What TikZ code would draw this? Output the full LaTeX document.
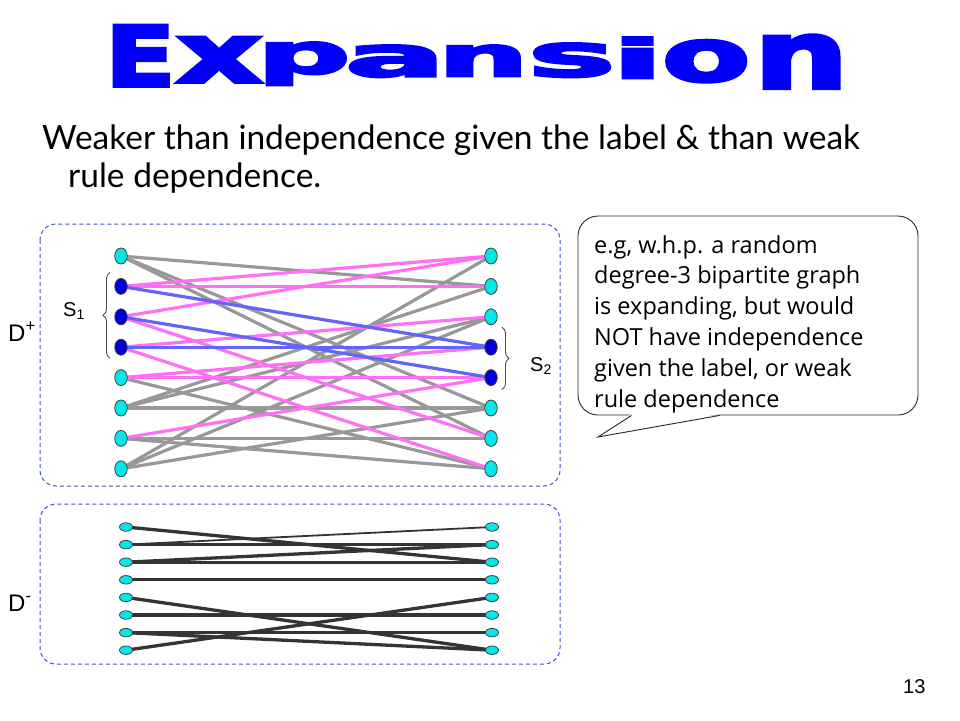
\documentclass[tikz,border=0pt]{standalone}
\usepackage{fontspec}
\usepackage{graphicx}
\usetikzlibrary{shapes.geometric,decorations.pathreplacing}
\setmainfont{Liberation Sans}
\newfontfamily\slidefont{Lato}
\newfontfamily\notefont{Open Sans}
\newfontfamily\wordart{DejaVu Sans Bold}[FakeBold=4]

\definecolor{nodecyan}{RGB}{0,232,232}
\definecolor{nodeblue}{RGB}{0,0,215}
\definecolor{edgegray}{RGB}{152,152,152}
\definecolor{edgepink}{RGB}{255,112,245}
\definecolor{edgeblue}{RGB}{100,100,250}
\definecolor{edgedark}{RGB}{52,52,52}
\definecolor{boxblue}{RGB}{60,80,200}
\definecolor{titleblue}{RGB}{0,0,250}

\pgfdeclarelayer{background}
\pgfsetlayers{background,main}

\begin{document}
\begin{tikzpicture}[x=1pt, y=-1pt,
        vtx/.style = {ellipse, draw=black!75, fill=nodecyan, line width=0.8pt, inner sep=0pt, minimum width=12.5pt, minimum height=16pt},
        svtx/.style = {vtx, fill=nodeblue},
        flatvtx/.style = {vtx, minimum width=13pt, minimum height=8.5pt},
        grayedge/.style = {edgegray, line width=3.2pt},
        pinkedge/.style = {edgepink, line width=3.2pt},
        blueedge/.style = {edgeblue, line width=3.2pt},
        darkedge/.style = {edgedark, line width=3.3pt},
        thinedge/.style = {edgedark, line width=1.8pt},
        groupbox/.style = {draw=boxblue, line width=1pt, dash pattern=on 4pt off 3pt, rounded corners=16pt},
        setbrace/.style = {decorate, decoration={brace, amplitude=7pt}, draw=black!70, line width=0.9pt},
        wordletter/.style = {inner sep=0pt, text=titleblue},
        headline/.style = {inner sep=0pt, anchor=base west, font=\slidefont\fontsize{33.5}{40}\selectfont},
        bubble/.style = {draw=black!85, fill=white, line width=0.9pt, rounded corners=20pt, minimum width=340pt, minimum height=199pt, inner sep=0pt},
        notetext/.style = {inner sep=0pt, anchor=base west, font=\notefont\fontsize{23.5}{27}\selectfont},
        setlabel/.style = {inner sep=0pt, anchor=base west, font=\fontsize{20}{24}\selectfont},
        grouplabel/.style = {inner sep=0pt, anchor=base west, font=\fontsize{24}{28}\selectfont}
    ]
    \useasboundingbox (0,0) rectangle (960,720);

    % title
    \foreach \ch/\xl/\xr/\yt/\yb [count=\k] in {E/105/175/25/86, x/176/262/37/82, p/257/350/42/85, a/345/445/45/77, n/438/528/45/76, s/528/615/43/77, i/612/663/37/78, o/662/750/40/82, n/754/848/35/88} {
        \pgfmathsetmacro\w{\xr-\xl}
        \pgfmathsetmacro\h{\yb-\yt}
        \node[wordletter, anchor=north west] (title\k) at (\xl,\yt) {\resizebox*{\w pt}{\h pt}{\wordart\ch}};
    }
    \node[headline] (sub1) at (42,149) {Weaker than independence given the label \& than weak};
    \node[headline] (sub2) at (68,187) {rule dependence.};

    % D+ and D- groups
    \draw[groupbox] (40,224) rectangle (560,486);
    \draw[groupbox] (40,504) rectangle (560,664);
    \node[grouplabel] (dplus) at (8,341) {D\textsuperscript{+}};
    \node[grouplabel] (dminus) at (8,611) {D\textsuperscript{-}};

    % D+ graph
    \foreach \i/\s in {1/vtx,2/svtx,3/svtx,4/svtx,5/vtx,6/vtx,7/vtx,8/vtx}
        \node[\s] (pl\i) at (121,{256+30.4*(\i-1)}) {};
    \foreach \i/\s in {1/vtx,2/vtx,3/vtx,4/svtx,5/svtx,6/vtx,7/vtx,8/vtx}
        \node[\s] (pr\i) at (491,{256+30.4*(\i-1)}) {};
    \begin{pgfonlayer}{background}
        \foreach \a/\b in {1/2,1/6,1/7,5/8,6/2,6/3,6/6,7/7,7/8,8/1,8/3,8/6}
            \draw[grayedge] (pl\a.center) -- (pr\b.center);
        \foreach \a/\b in {2/1,2/2,3/1,3/7,4/3,4/8,5/4,5/5,7/5}
            \draw[pinkedge] (pl\a.center) -- (pr\b.center);
        \foreach \a/\b in {2/4,3/5,4/4}
            \draw[blueedge] (pl\a.center) -- (pr\b.center);
    \end{pgfonlayer}

    % S1 and S2
    \draw[setbrace] ([shift={(-11pt,-11pt)}]pl4.center) -- ([shift={(-11pt,14pt)}]pl2.center);
    \draw[setbrace] ([shift={(11pt,20pt)}]pr4.center) -- ([shift={(11pt,-12pt)}]pr5.center);
    \node[setlabel] (s1) at (63,316) {S\textsubscript{1}};
    \node[setlabel] (s2) at (530,371) {S\textsubscript{2}};

    % D- graph
    \foreach \i in {1,...,8} {
        \node[flatvtx] (nl\i) at (126,{527+17.6*(\i-1)}) {};
        \node[flatvtx] (nr\i) at (492,{527+17.6*(\i-1)}) {};
    }
    \begin{pgfonlayer}{background}
        \foreach \a/\b in {1/3,2/2,3/2,3/3,4/4,5/8,6/6,7/7,7/8,8/5}
            \draw[darkedge] (nl\a.center) -- (nr\b.center);
        \draw[thinedge] (nl2.center) -- (nr1.center);
    \end{pgfonlayer}

    % callout
    \node[bubble] (note) at (748,315.5) {};
    \coordinate (tip) at (598,437);
    \fill[white] ([shift={(54pt,1.5pt)}]note.south west) -- (tip) -- ([shift={(142pt,1.5pt)}]note.south west) -- cycle;
    \draw[draw=black!85, line width=0.9pt] ([xshift=54pt]note.south west) -- (tip) -- ([xshift=142pt]note.south west);
    \foreach \t [count=\k] in {{e.g, w.h.p. a random}, {degree-3 bipartite graph}, {is expanding, but would}, {NOT have independence}, {given the label, or weak}, {rule dependence}}
        \node[notetext] (line\k) at (594,{253+30.8*(\k-1)}) {\t};

    \node[inner sep=0pt, anchor=base west, font=\fontsize{20}{24}\selectfont] (page) at (903,693) {13};
\end{tikzpicture}
\end{document}
